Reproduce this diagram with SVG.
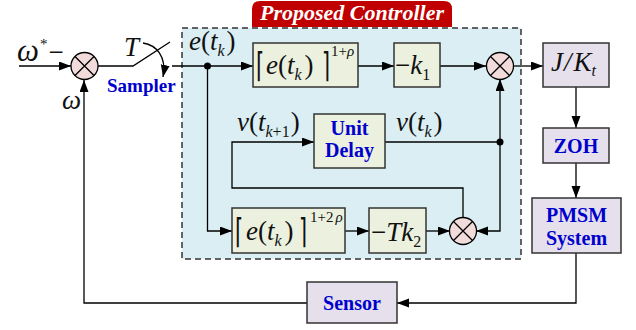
<svg xmlns="http://www.w3.org/2000/svg" width="636" height="330" viewBox="0 0 636 330">
<style>
.ln{fill:none;stroke:#000;stroke-width:1.3}
.ar{marker-end:url(#ah)}
.gb{fill:#ebf1de;stroke:#333;stroke-width:1.5}
.pb{fill:#e5e0ec;stroke:#333;stroke-width:1.5}
.sj{fill:#f2dcdb;stroke:#000;stroke-width:1.3}
.m{font-family:"Liberation Serif",serif;font-style:italic;font-size:27px;fill:#111}
.u{font-style:normal}
.sb{font-size:16px}
.sp{font-size:15px;font-style:normal}
.gi{font-style:italic}
.br{font-family:"DejaVu Sans",sans-serif;font-size:34px;fill:#111}
.bl{font-family:"Liberation Serif",serif;font-weight:bold;font-size:20px;fill:#0000cc;text-anchor:middle}
</style>
<defs>
<marker id="ah" markerUnits="userSpaceOnUse" markerWidth="14" markerHeight="10" refX="12" refY="4.5" orient="auto">
<path d="M0,0 L12,4.5 L0,9 Z" fill="#000"/>
</marker>
</defs>

<g id="controller-frame">
<rect x="182" y="28" width="339" height="231" fill="#daeef3" stroke="#333" stroke-width="1.5" stroke-dasharray="6,4"/>
<path d="M252,27 V9 Q252,1 260,1 H444 Q452,1 452,9 V27 Z" fill="#c00000"/>
<text x="352" y="20" text-anchor="middle" font-family="Liberation Serif, serif" font-weight="bold" font-style="italic" font-size="22" fill="#fff">Proposed Controller</text>
</g>

<g id="connectors">
<path class="ln ar" d="M19,66 H71"/>
<path class="ln" d="M98,66 H133 L170,42"/>
<path class="ln ar" d="M143,43 C156,45 167,56 163,77"/>
<path class="ln ar" d="M172,66 H253"/>
<path class="ln ar" d="M358,66 H394"/>
<path class="ln ar" d="M440,66 H486"/>
<path class="ln ar" d="M513,66 H543"/>
<path class="ln ar" d="M576,87 V128"/>
<path class="ln ar" d="M576,163 V198"/>
<path class="ln ar" d="M576,253 V303 H397"/>
<path class="ln ar" d="M307,303 H84 V80"/>
<path class="ln ar" d="M207.5,66 V231 H232"/>
<path class="ln ar" d="M345,231 H369"/>
<path class="ln ar" d="M426,231 H450"/>
<path class="ln" d="M385,142 H500"/>
<path class="ln ar" d="M500,142 V79"/>
<path class="ln ar" d="M500,142 V231 H476"/>
<path class="ln ar" d="M463,218 V188 H232 V142 H314"/>
<circle cx="207.5" cy="66" r="3.5" fill="#000"/>
<circle cx="500" cy="142" r="3.5" fill="#000"/>
</g>

<g id="labels">
<text class="m" x="17" y="61"><tspan font-size="31">ω</tspan><tspan class="sp" dy="-12" dx="1">*</tspan><tspan class="u" dy="12" dx="1">−</tspan></text>
<text class="m" x="62" y="109" font-size="30">ω</text>
<text class="m" x="124" y="56">T</text>
<text x="107" y="92" font-family="Liberation Serif, serif" font-weight="bold" font-size="19" fill="#0000cc">Sampler</text>
<text class="m" x="189" y="50">e<tspan class="u">(</tspan>t<tspan class="sb" dy="6">k</tspan><tspan class="u" dy="-6" dx="2">)</tspan></text>
<text class="m" x="237" y="131">v<tspan class="u">(</tspan>t<tspan class="sb" dy="6">k</tspan><tspan class="sb u">+1</tspan><tspan class="u" dy="-6" dx="1">)</tspan></text>
<text class="m" x="396" y="131">v<tspan class="u">(</tspan>t<tspan class="sb" dy="6">k</tspan><tspan class="u" dy="-6" dx="2">)</tspan></text>
</g>

<g id="sum1">
<circle class="sj" cx="84.5" cy="66" r="13.5"/>
<path class="ln" d="M75,56.5 L94,75.5 M94,56.5 L75,75.5"/>
</g>

<g id="pow1">
<rect class="gb" x="253" y="43" width="105" height="44"/>
<text class="br" transform="translate(256,77) scale(0.62,1)">⌈</text>
<text class="m" x="266" y="74">e<tspan class="u">(</tspan>t<tspan class="sb" dy="6">k</tspan><tspan class="u" dy="-6" dx="3">)</tspan></text>
<text class="br" transform="translate(322,77) scale(0.62,1)">⌉</text>
<text class="m sp" x="331" y="56">1+<tspan class="gi">ρ</tspan></text>
</g>

<g id="gain-k1">
<rect class="gb" x="394" y="43" width="46" height="44"/>
<text class="m" x="395" y="74"><tspan class="u">−</tspan>k<tspan class="sb u" dy="6">1</tspan></text>
</g>

<g id="sum2">
<circle class="sj" cx="500" cy="66" r="13.5"/>
<path class="ln" d="M490.5,56.5 L509.5,75.5 M509.5,56.5 L490.5,75.5"/>
</g>

<g id="plant-gain">
<rect class="pb" x="543" y="43" width="66" height="44"/>
<text class="m" x="551" y="71">J<tspan dx="1">/</tspan><tspan dx="2">K</tspan><tspan class="sb" dy="5">t</tspan></text>
</g>

<g id="zoh">
<rect class="pb" x="543" y="128" width="66" height="35"/>
<text class="bl" x="576" y="153" font-size="21">ZOH</text>
</g>

<g id="pmsm">
<rect class="pb" x="532" y="198" width="89" height="55"/>
<text class="bl" x="576.5" y="222">PMSM</text>
<text class="bl" x="576.5" y="244.5">System</text>
</g>

<g id="sensor">
<rect class="pb" x="307" y="282" width="90" height="41"/>
<text class="bl" x="352" y="310" font-size="21">Sensor</text>
</g>

<g id="unit-delay">
<rect class="gb" x="314" y="114" width="71" height="54"/>
<text class="bl" x="349.5" y="134.5">Unit</text>
<text class="bl" x="349.5" y="157">Delay</text>
</g>

<g id="pow2">
<rect class="gb" x="232" y="208" width="113" height="45"/>
<text class="br" transform="translate(235,243) scale(0.62,1)">⌈</text>
<text class="m" x="246" y="240">e<tspan class="u">(</tspan>t<tspan class="sb" dy="6">k</tspan><tspan class="u" dy="-6" dx="3">)</tspan></text>
<text class="br" transform="translate(299,243) scale(0.62,1)">⌉</text>
<text class="m sp" x="310" y="222">1+2<tspan class="gi" dx="2">ρ</tspan></text>
</g>

<g id="gain-tk2">
<rect class="gb" x="369" y="208" width="57" height="45"/>
<text class="m" x="371" y="241"><tspan class="u">−</tspan>Tk<tspan class="sb u" dy="6">2</tspan></text>
</g>

<g id="sum3">
<circle class="sj" cx="463" cy="231" r="13.5"/>
<path class="ln" d="M453.5,221.5 L472.5,240.5 M472.5,221.5 L453.5,240.5"/>
</g>
</svg>
